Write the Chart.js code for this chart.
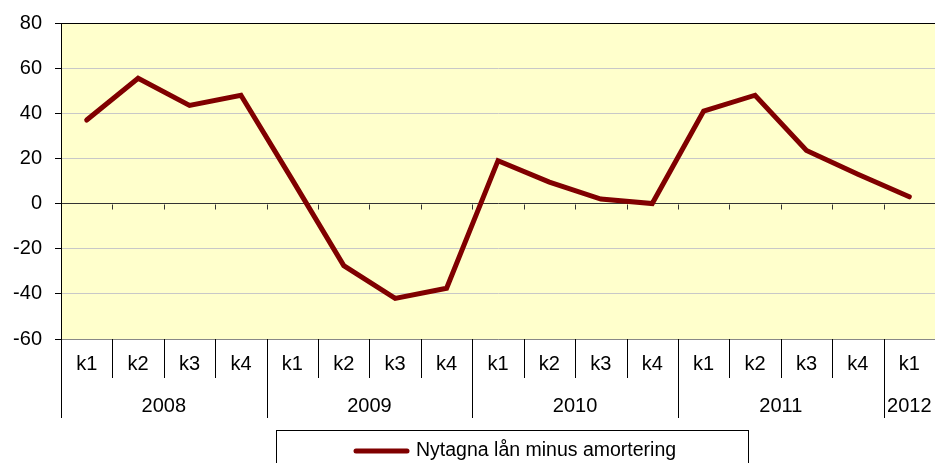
<!DOCTYPE html>
<html>
<head>
<meta charset="utf-8">
<script src="https://cdn.jsdelivr.net/npm/chart.js@4"></script>
<style>
  body { margin: 0; background: #fff; }
  #wrap { width: 935px; height: 463px; position: relative; }
</style>
</head>
<body>
<div id="wrap"><canvas id="loanChart"></canvas></div>
<script>
// quarters and years for the two-level category axis
var quarters = ["k1", "k2", "k3", "k4", "k1", "k2", "k3", "k4", "k1", "k2", "k3", "k4", "k1", "k2", "k3", "k4", "k1"];
var years = ["2008", "2009", "2010", "2011", "2012"];
var quartersPerYear = [4, 4, 4, 4, 1];
var seriesName = "Nytagna lån minus amortering";
var values = [37, 55.5, 43.5, 48, 10.5, -27.5, -42, -37.5, 19, 9.5, 2, 0, 41, 48, 23.5, 13, 3];
var yTicks = [-60, -40, -20, 0, 20, 40, 60, 80];

var FONT = "'Liberation Sans', Arial, sans-serif";

// yellow plot background and top border
var plotFrame = {
    id: "plotFrame",
    beforeDraw: function (chart) {
        var a = chart.chartArea, ctx = chart.ctx;
        ctx.save();
        ctx.fillStyle = "#FFFFCC";
        ctx.fillRect(a.left, a.top, a.right - a.left, a.bottom - a.top);
        ctx.restore();
    },
    afterDraw: function (chart) {
        var a = chart.chartArea, ctx = chart.ctx;
        ctx.save();
        ctx.strokeStyle = "#000";
        ctx.lineWidth = 1;
        ctx.beginPath();
        ctx.moveTo(a.left, Math.round(a.top) + 0.5);
        ctx.lineTo(a.right, Math.round(a.top) + 0.5);
        ctx.stroke();
        ctx.restore();
    }
};

// zero line tick marks plus the two-level category labels below the plot
var categoryLabels = {
    id: "categoryLabels",
    afterDatasetsDraw: function (chart) {
        var ctx = chart.ctx, x = chart.scales.x, y = chart.scales.y, a = chart.chartArea;
        var n = quarters.length;
        var step = x.getPixelForTick(1) - x.getPixelForTick(0);
        var bounds = [];
        for (var i = 0; i <= n; i++) bounds.push(x.getPixelForTick(0) - step / 2 + i * step);

        var y0 = Math.round(y.getPixelForValue(0)) + 0.5;
        ctx.save();
        ctx.strokeStyle = "#333";
        ctx.lineWidth = 1;
        ctx.beginPath();
        for (var i = 1; i < n; i++) {
            var bx = Math.round(bounds[i]) + 0.5;
            ctx.moveTo(bx, y0);
            ctx.lineTo(bx, y0 + 5);
        }
        ctx.stroke();

        // separators
        var yearStarts = [0];
        for (var j = 0; j < quartersPerYear.length; j++) yearStarts.push(yearStarts[j] + quartersPerYear[j]);
        var top = Math.round(a.bottom);
        ctx.strokeStyle = "#000";
        ctx.beginPath();
        for (var i = 0; i < n; i++) {
            var bx = Math.round(bounds[i]) + 0.5;
            var isYear = yearStarts.indexOf(i) >= 0;
            ctx.moveTo(bx, top);
            ctx.lineTo(bx, top + (isYear ? 79 : 39));
        }
        ctx.stroke();

        ctx.fillStyle = "#000";
        ctx.font = "20px " + FONT;
        ctx.textAlign = "center";
        ctx.textBaseline = "middle";
        for (var i = 0; i < n; i++) {
            ctx.fillText(quarters[i], x.getPixelForTick(i), top + 25);
        }
        for (var j = 0; j < years.length; j++) {
            var left = bounds[yearStarts[j]], right = bounds[yearStarts[j + 1]];
            ctx.fillText(years[j], (left + right) / 2, top + 67);
        }
        ctx.restore();
    }
};

// boxed legend at the bottom
var boxLegend = {
    id: "boxLegend",
    afterDraw: function (chart) {
        var ctx = chart.ctx;
        ctx.save();
        ctx.strokeStyle = "#000";
        ctx.lineWidth = 1;
        ctx.strokeRect(276.5, 430.5, 472, 40);
        ctx.strokeStyle = "#800000";
        ctx.lineWidth = 5;
        ctx.lineCap = "round";
        ctx.beginPath();
        ctx.moveTo(356, 451);
        ctx.lineTo(407, 451);
        ctx.stroke();
        ctx.fillStyle = "#000";
        ctx.font = "19.5px " + FONT;
        ctx.textAlign = "left";
        ctx.textBaseline = "middle";
        ctx.fillText(chart.data.datasets[0].label, 416, 451);
        ctx.restore();
    }
};

var ctx1 = document.getElementById("loanChart").getContext("2d");
var loanChart = new Chart(ctx1, {
    type: "line",
    data: {
        labels: quarters,
        datasets: [{
            label: seriesName,
            data: values,
            borderColor: "#800000",
            backgroundColor: "#800000",
            borderWidth: 5,
            borderCapStyle: "round",
            borderJoinStyle: "miter",
            pointRadius: 0,
            tension: 0,
            fill: false
        }]
    },
    options: {
        responsive: true,
        maintainAspectRatio: false,
        animation: false,
        layout: { padding: { top: 22, right: 0, left: 0, bottom: 0 } },
        plugins: {
            legend: { display: false },
            tooltip: { enabled: false }
        },
        scales: {
            x: {
                type: "category",
                offset: true,
                grid: { display: false },
                border: { display: true, color: "#888", width: 1 },
                ticks: { display: false },
                afterFit: function (scale) { scale.height = 124; }
            },
            y: {
                min: -60,
                max: 80,
                afterBuildTicks: function (scale) {
                    scale.ticks = yTicks.map(function (v) { return { value: v }; });
                },
                grid: {
                    color: function (c) { return c.tick && c.tick.value === 0 ? "#333" : "#C8C8C8"; },
                    tickColor: "#000",
                    tickLength: 6,
                    drawTicks: true
                },
                border: { display: true, color: "#000", width: 1 },
                ticks: {
                    color: "#000",
                    padding: 13,
                    font: { family: FONT, size: 20, lineHeight: 1 }
                },
                afterFit: function (scale) { scale.width = 61; }
            }
        }
    },
    plugins: [plotFrame, categoryLabels, boxLegend]
});
</script>
</body>
</html>
